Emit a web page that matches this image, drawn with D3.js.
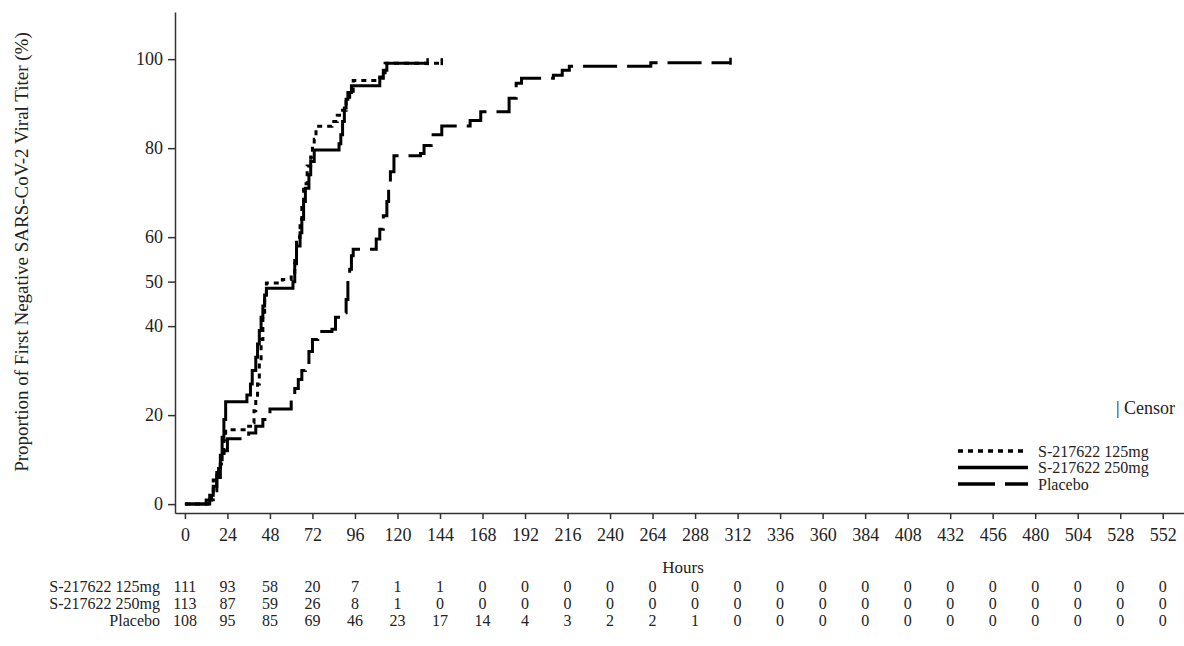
<!DOCTYPE html>
<html lang="en">
<head>
    <meta charset="UTF-8">
    <title>Time to First Negative Viral Titer</title>
    <script src="https://d3js.org/d3.v7.min.js"></script>
</head>
<body>
    <div id="chart"></div>

    <script>
        // step points (hours, cumulative %)
        const groups = ['S-217622 125mg', 'S-217622 250mg', 'Placebo'];

        const t125 = [0, 13, 15, 16, 18, 20, 21, 22, 23, 36, 38, 39, 40, 41, 42, 43, 44, 45, 46, 55, 60, 62, 63, 65, 66, 67, 69, 71, 72, 73, 74, 83, 86, 89, 91, 93, 95, 110, 113];
        const p125 = [0, 0.9, 2.5, 5.4, 7.5, 9, 11.5, 14.4, 16.7, 17.5, 18.3, 21, 24, 27, 32, 37, 42, 47, 49.7, 50.5, 51.7, 56, 60, 64, 68, 72, 76, 78, 80.4, 82, 84.9, 86, 87.4, 88.5, 90.5, 92.8, 95.2, 96, 99.1];
        const end125 = 145;

        const t250 = [0, 12, 14, 16, 18, 19, 20, 21, 22, 23, 35, 37, 38, 40, 41, 42, 43, 44, 45, 46, 61, 62, 63, 65, 66, 67, 68, 70, 71, 73, 87, 88, 89, 90, 91, 92, 94, 110, 112, 114];
        const p250 = [0, 0.9, 2, 4, 6.5, 8, 11, 15, 19, 23, 24.5, 27, 30, 33, 36, 39, 42, 44.5, 47, 48.5, 50, 54, 58, 61, 64, 68, 71, 74, 77, 79.6, 81, 83, 86, 89, 91, 92.5, 94, 95.7, 97.5, 99.1];
        const end250 = 137;

        const tPla = [0, 14, 16, 18, 20, 22, 24, 36, 40, 44, 48, 60, 62, 64, 66, 68, 70, 72, 75, 83, 85, 90, 91, 92, 93, 94, 95, 108, 110, 112, 114, 115, 116, 118, 133, 135, 139, 145, 161, 167, 183, 187, 190, 208, 213, 217, 263];
        const pPla = [0, 1, 3, 6, 9, 12, 14.7, 16, 17.5, 19, 21.4, 24, 26, 28, 30, 31.4, 34.3, 37, 38.8, 39.3, 42, 43, 46, 50.5, 52.8, 55.8, 57.3, 59.6, 61.8, 64.8, 68, 71.5, 74.7, 78.3, 78.8, 80.6, 83, 85, 86.2, 88.2, 91.2, 94.6, 95.7, 96.4, 97.5, 98.4, 99.2];
        const endPla = 308;

        // numbers at risk
        const riskTimes = d3.range(0, 553, 24);
        const risk125 = [111, 93, 58, 20, 7, 1, 1, 0, 0, 0, 0, 0, 0, 0, 0, 0, 0, 0, 0, 0, 0, 0, 0, 0];
        const risk250 = [113, 87, 59, 26, 8, 1, 0, 0, 0, 0, 0, 0, 0, 0, 0, 0, 0, 0, 0, 0, 0, 0, 0, 0];
        const riskPla = [108, 95, 85, 69, 46, 23, 17, 14, 4, 3, 2, 2, 1, 0, 0, 0, 0, 0, 0, 0, 0, 0, 0, 0];

        const yTicks = [0, 20, 40, 50, 60, 80, 100];

        const width = 1184;
        const height = 646;
        const font = '"Liberation Serif", "Times New Roman", serif';

        const svg = d3.select('#chart')
            .append('svg')
            .attr('width', width)
            .attr('height', height)
            .style('font-family', font);

        const x = d3.scaleLinear().domain([-5.6, 564]).range([175, 1184]);
        const y = d3.scaleLinear().domain([-2, 110.6]).range([513, 12]);

        // axes
        const xAxis = svg.append('g')
            .attr('transform', `translate(0,${y(-2)})`)
            .call(d3.axisBottom(x).tickValues(riskTimes).tickSize(6).tickSizeOuter(0).tickPadding(9));

        const yAxis = svg.append('g')
            .attr('transform', `translate(${x(-5.6)},0)`)
            .call(d3.axisLeft(y).tickValues(yTicks).tickSize(7).tickSizeOuter(0).tickPadding(5));

        [xAxis, yAxis].forEach(a => {
            a.selectAll('path, line').attr('stroke', '#333').attr('stroke-width', 1.5);
            a.selectAll('text').attr('font-family', font).attr('font-size', 18).attr('fill', '#222');
        });

        svg.append('text')
            .attr('transform', `translate(28,252) rotate(-90)`)
            .attr('text-anchor', 'middle')
            .attr('font-size', 19)
            .attr('fill', '#222')
            .text('Proportion of First Negative SARS-CoV-2 Viral Titer (%)');

        svg.append('text')
            .attr('x', 683)
            .attr('y', 573)
            .attr('text-anchor', 'middle')
            .attr('font-size', 17)
            .attr('fill', '#222')
            .text('Hours');

        // curves
        const styles = [
            { t: t125, p: p125, end: end125, dash: '5,5' },
            { t: t250, p: p250, end: end250, dash: null },
            { t: tPla, p: pPla, end: endPla, dash: '34,10' }
        ];

        const line = d3.line()
            .x(d => x(d[0]))
            .y(d => y(d[1]))
            .curve(d3.curveStepAfter);

        styles.forEach(s => {
            const pts = s.t.map((t, i) => [t, s.p[i]]);
            pts.push([s.end, s.p[s.p.length - 1]]);

            svg.append('path')
                .datum(pts)
                .attr('fill', 'none')
                .attr('stroke', '#000')
                .attr('stroke-width', 3)
                .attr('stroke-dasharray', s.dash)
                .attr('d', line);

            // censor mark at last follow-up
            const last = s.p[s.p.length - 1];
            svg.append('line')
                .attr('x1', x(s.end)).attr('x2', x(s.end))
                .attr('y1', y(last) - 5).attr('y2', y(last) + 2)
                .attr('stroke', '#000')
                .attr('stroke-width', 2.5);
        });

        // legend
        svg.append('text')
            .attr('x', 1175)
            .attr('y', 414)
            .attr('text-anchor', 'end')
            .attr('font-size', 18)
            .attr('fill', '#222')
            .text('| Censor');

        const legend = svg.selectAll('.legend')
            .data(groups)
            .enter()
            .append('g')
            .attr('class', 'legend')
            .attr('transform', (d, i) => `translate(958,${451 + i * 16.5})`);

        legend.append('line')
            .attr('x1', 0)
            .attr('x2', 70)
            .attr('stroke', '#000')
            .attr('stroke-width', 3.5)
            .attr('stroke-dasharray', (d, i) => [ '5,5', null, '37,10' ][i]);

        legend.append('text')
            .attr('x', 80)
            .attr('dy', '0.35em')
            .attr('font-size', 16)
            .attr('fill', '#222')
            .text(d => d);

        // numbers at risk table
        const riskRows = [risk125, risk250, riskPla];
        riskRows.forEach((row, r) => {
            const yy = 592 + r * 17;
            svg.append('g')
                .selectAll('text')
                .data(row)
                .enter()
                .append('text')
                .attr('x', (d, i) => x(riskTimes[i]))
                .attr('y', yy)
                .attr('text-anchor', 'middle')
                .attr('font-size', 16)
                .attr('fill', '#222')
                .text(d => d);

            svg.append('text')
                .attr('x', 160)
                .attr('y', yy)
                .attr('text-anchor', 'end')
                .attr('font-size', 16)
                .attr('fill', '#222')
                .text(groups[r]);
        });
    </script>
</body>
<style>
    body {
        margin: 0;
        background: #fff;
    }
</style>
</html>
